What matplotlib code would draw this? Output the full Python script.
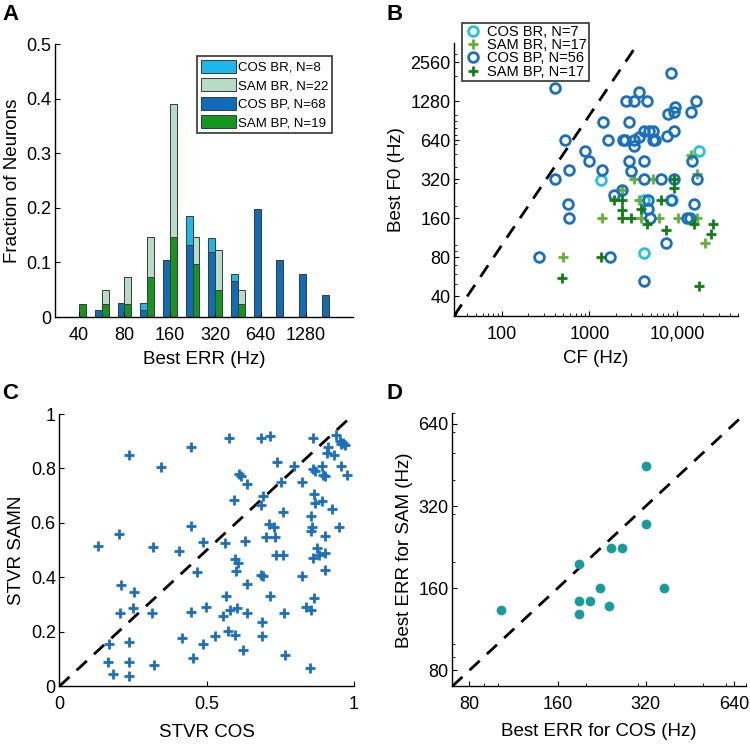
import numpy as np
import matplotlib.pyplot as plt
from matplotlib.ticker import FixedLocator, FixedFormatter, LogLocator, NullFormatter

plt.rcParams['font.family'] = ['Liberation Sans', 'DejaVu Sans']
plt.rcParams['xtick.direction'] = 'in'
plt.rcParams['ytick.direction'] = 'in'
plt.rcParams['xtick.major.size'] = 3.5
plt.rcParams['ytick.major.size'] = 3.5
plt.rcParams['xtick.minor.size'] = 2
plt.rcParams['ytick.minor.size'] = 2
plt.rcParams['xtick.major.pad'] = 7
plt.rcParams['ytick.major.pad'] = 2.5
plt.rcParams['axes.linewidth'] = 1.0

# A: neuron counts per half-octave bin of best ERR
err_bins = [40, 57, 80, 113, 160, 226, 320, 453, 640, 905, 1280, 1810]
cos_bp_n = [0, 1, 2, 1, 8, 10, 9, 5, 15, 8, 6, 3]
cos_br_n = [0, 0, 0, 1, 0, 4, 2, 1, 0, 0, 0, 0]
sam_bp_n = [1, 1, 1, 3, 6, 4, 2, 1, 0, 0, 0, 0]
sam_br_n = [0, 1, 2, 3, 10, 2, 3, 1, 0, 0, 0, 0]
err_ticks = [40, 80, 160, 320, 640, 1280]

# B: CF vs best F0
cos_br_cf = [18140, 1352, 4255, 4255, 8700]
cos_br_f0 = [534, 318, 223, 87, 223]
sam_br_cf = [3213, 5300, 16940, 2345, 3720, 1390, 3900, 6250, 10290, 16940, 21230, 505, 14320]
sam_br_f0 = [320, 320, 354, 267, 223, 160, 160, 160, 160, 160, 104, 80, 495]
cos_bp_cf = [405, 8475, 3700, 2630, 3250, 4600, 16500, 9590, 9180, 7920, 14320, 1420, 2800,
             9180, 7640, 4255, 4830, 5390, 3720, 2430, 2585, 3270, 3213, 5390, 5650, 1612, 531,
             898, 998, 2818, 4225, 14970, 590, 1400, 3024, 4255, 6520, 9180, 17000, 2345, 1901,
             4650, 8580, 15660, 4650, 4870, 12940, 14130, 590, 570, 7450, 1712, 4225, 405, 266]
cos_bp_f0 = [1640, 2111, 1508, 1280, 1280, 1280, 1280, 1157, 1054, 1020, 1060, 893, 893,
             761, 693, 761, 761, 761, 684, 640, 640, 640, 581, 640, 640, 640, 640,
             534, 448, 448, 448, 448, 380, 380, 373, 320, 320, 320, 320, 267, 244,
             223, 223, 207, 190, 160, 160, 160, 160, 207, 104, 80, 53, 320, 80]
sam_bp_cf = [9180, 9180, 1901, 2370, 2370, 6520, 3900, 2345, 3000, 4600, 15660, 25780,
             7570, 24470, 1352, 486, 18140]
sam_bp_f0 = [320, 275, 223, 223, 187, 223, 190, 160, 160, 144, 146, 146,
             131, 122, 80, 56, 48]

# C: STVR COS vs STVR SAMN
stvr_cos = [0.236, 0.346, 0.448, 0.575, 0.686, 0.715, 0.862, 0.938, 0.952, 0.964, 0.971, 0.955,
            0.913, 0.907, 0.933, 0.955, 0.975, 0.893, 0.862, 0.867, 0.896, 0.902, 0.825, 0.796,
            0.738, 0.752, 0.611, 0.615, 0.636, 0.692, 0.683, 0.594, 0.758, 0.865, 0.867, 0.890,
            0.925, 0.854, 0.856, 0.854, 0.950, 0.903, 0.710, 0.729, 0.702, 0.733, 0.736, 0.760,
            0.873, 0.880, 0.862, 0.903, 0.902, 0.825, 0.863, 0.837, 0.853, 0.852, 0.764, 0.766,
            0.715, 0.686, 0.692, 0.636, 0.630, 0.597, 0.608, 0.598, 0.638, 0.602, 0.579, 0.566,
            0.554, 0.574, 0.596, 0.622, 0.689, 0.688, 0.527, 0.488, 0.455, 0.416, 0.448, 0.497,
            0.466, 0.562, 0.488, 0.407, 0.447, 0.318, 0.313, 0.321, 0.253, 0.251, 0.236, 0.236,
            0.236, 0.208, 0.206, 0.204, 0.131, 0.169, 0.166, 0.183]
stvr_samn = [0.848, 0.804, 0.878, 0.912, 0.912, 0.920, 0.912, 0.924, 0.902, 0.893, 0.887, 0.891,
             0.879, 0.857, 0.851, 0.808, 0.777, 0.808, 0.798, 0.789, 0.777, 0.774, 0.750, 0.808,
             0.823, 0.749, 0.781, 0.771, 0.743, 0.700, 0.667, 0.683, 0.639, 0.707, 0.673, 0.679,
             0.652, 0.627, 0.585, 0.569, 0.584, 0.551, 0.596, 0.584, 0.547, 0.547, 0.482, 0.482,
             0.508, 0.483, 0.471, 0.490, 0.426, 0.404, 0.324, 0.290, 0.282, 0.067, 0.269, 0.114,
             0.333, 0.410, 0.406, 0.376, 0.534, 0.469, 0.453, 0.422, 0.269, 0.286, 0.279, 0.330,
             0.257, 0.202, 0.187, 0.135, 0.235, 0.186, 0.184, 0.157, 0.104, 0.177, 0.274, 0.290,
             0.420, 0.526, 0.530, 0.498, 0.589, 0.512, 0.269, 0.080, 0.345, 0.288, 0.162, 0.091,
             0.039, 0.373, 0.269, 0.561, 0.514, 0.155, 0.091, 0.045]

# D: best ERR for COS vs SAM
err_cos = [103, 190, 190, 190, 206, 224, 240, 244, 265, 320, 320, 368]
err_sam = [133, 197, 144, 129, 144, 160, 138, 224, 224, 275, 447, 160]

c_cos_br = '#1cb8ea'
c_sam_br = '#b6dcc6'
c_cos_bp = '#0f6cb9'
c_sam_bp = '#17961f'

LAB = 13.5
TICK = 13

fig = plt.figure(figsize=(7.5, 7.46), dpi=100)

# ---- A
axA = fig.add_axes([0.0733, 0.575, 0.3973, 0.366])
x = np.arange(len(err_bins))
cos_tot = sum(cos_bp_n) + sum(cos_br_n)
sam_tot = sum(sam_bp_n) + sum(sam_br_n)
cbp = np.array(cos_bp_n) / cos_tot
cbr = np.array(cos_br_n) / cos_tot
sbp = np.array(sam_bp_n) / sam_tot
sbr = np.array(sam_br_n) / sam_tot
w = 0.3
ek = dict(edgecolor='#3a3a3a', linewidth=0.7)
m = cbp > 0
hA3 = axA.bar(x[m] - w / 2, cbp[m], w, color=c_cos_bp, **ek)
m = cbr > 0
hA1 = axA.bar(x[m] - w / 2, cbr[m], w, bottom=cbp[m], color=c_cos_br, **ek)
m = sbp > 0
hA4 = axA.bar(x[m] + w / 2, sbp[m], w, color=c_sam_bp, **ek)
m = sbr > 0
hA2 = axA.bar(x[m] + w / 2, sbr[m], w, bottom=sbp[m], color=c_sam_br, **ek)
axA.set_xlim(-1.06, 12.07)
axA.set_ylim(0, 0.5)
axA.set_xticks([err_bins.index(t) for t in err_ticks])
axA.set_xticklabels([str(t) for t in err_ticks])
axA.set_yticks([0, 0.1, 0.2, 0.3, 0.4, 0.5])
axA.set_yticklabels(['0', '0.1', '0.2', '0.3', '0.4', '0.5'])
axA.set_xlabel('Best ERR (Hz)', fontsize=LAB, labelpad=5)
axA.set_ylabel('Fraction of Neurons', fontsize=LAB)
lgA = axA.legend([hA1, hA2, hA3, hA4],
                 ['COS BR, N=8', 'SAM BR, N=22', 'COS BP, N=68', 'SAM BP, N=19'],
                 loc='upper left', bbox_to_anchor=(0.477, 0.956), borderaxespad=0,
                 fontsize=9.5, handlelength=2.65, handleheight=1.1, labelspacing=0.35,
                 handletextpad=0.15, borderpad=0.3, fancybox=False, framealpha=1)
lgA.get_frame().set_edgecolor('#333333')
lgA.get_frame().set_linewidth(1.2)

# ---- B
axB = fig.add_axes([0.6053, 0.5764, 0.3787, 0.366])
axB.set_xscale('log')
axB.set_yscale('log')
mk = dict(linestyle='none', ms=7, mew=2)
axB.plot([28.28, 3400], [28.28, 3400], '--', color='k', lw=2, dashes=(5, 3.5))
hB1, = axB.plot(cos_br_cf, cos_br_f0, 'o', mfc='none', mec='#22c4dc', **mk)
hB2, = axB.plot(sam_br_cf, sam_br_f0, '+', color='#62b230', **mk)
hB3, = axB.plot(cos_bp_cf, cos_bp_f0, 'o', mfc='none', mec='#1a70c0', **mk)
hB4, = axB.plot(sam_bp_cf, sam_bp_f0, '+', color='#0e7f12', **mk)
axB.set_xlim(28.28, 50000)
axB.set_ylim(28.28, 3620)
f0_ticks = [40, 80, 160, 320, 640, 1280, 2560]
axB.yaxis.set_major_locator(FixedLocator(f0_ticks))
axB.yaxis.set_major_formatter(FixedFormatter([str(t) for t in f0_ticks]))
axB.yaxis.set_minor_locator(LogLocator(base=10, subs=np.arange(1, 10)))
axB.yaxis.set_minor_formatter(NullFormatter())
axB.xaxis.set_major_locator(FixedLocator([100, 1000, 10000]))
axB.xaxis.set_major_formatter(FixedFormatter(['100', '1000', '10,000']))
axB.xaxis.set_minor_locator(LogLocator(base=10, subs=np.arange(2, 10)))
axB.xaxis.set_minor_formatter(NullFormatter())
axB.set_xlabel('CF (Hz)', fontsize=LAB, labelpad=5)
axB.set_ylabel('Best F0 (Hz)', fontsize=LAB)
lgB = axB.legend([hB1, hB2, hB3, hB4],
                 ['COS BR, N=7', 'SAM BR, N=17', 'COS BP, N=56', 'SAM BP, N=17'],
                 loc='upper left', bbox_to_anchor=(0.027, 1.074), borderaxespad=0,
                 fontsize=10.5, handlelength=1.2, labelspacing=-0.05, handletextpad=0.4,
                 borderpad=0.15, fancybox=False, framealpha=1)
lgB.get_frame().set_edgecolor('#333333')
lgB.get_frame().set_linewidth(1.2)

# ---- C
axC = fig.add_axes([0.079, 0.080, 0.393, 0.365])
axC.plot([0, 1], [0, 1], '--', color='k', lw=2, dashes=(5, 3.5))
axC.plot(stvr_cos, stvr_samn, '+', color='#1a70c0', ms=6.5, mew=2, linestyle='none')
axC.set_xlim(0, 1)
axC.set_ylim(0, 1)
axC.set_xticks([0, 0.5, 1])
axC.set_xticklabels(['0', '0.5', '1'])
axC.set_yticks([0, 0.2, 0.4, 0.6, 0.8, 1])
axC.set_yticklabels(['0', '0.2', '0.4', '0.6', '0.8', '1'])
axC.set_xlabel('STVR COS', fontsize=LAB, labelpad=8)
axC.set_ylabel('STVR SAMN', fontsize=LAB)

# ---- D
axD = fig.add_axes([0.603, 0.080, 0.391, 0.366])
axD.set_xscale('log')
axD.set_yscale('log')
axD.plot([70, 700], [70, 700], '--', color='k', lw=2, dashes=(5, 3.5))
axD.plot(err_cos, err_sam, 'o', color='#179c9c', ms=7, mec='none', linestyle='none')
axD.set_xlim(70, 700)
axD.set_ylim(70, 700)
d_ticks = [80, 160, 320, 640]
for ax_ in (axD.xaxis, axD.yaxis):
    ax_.set_major_locator(FixedLocator(d_ticks))
    ax_.set_major_formatter(FixedFormatter([str(t) for t in d_ticks]))
    ax_.set_minor_locator(LogLocator(base=10, subs=np.arange(1, 10)))
    ax_.set_minor_formatter(NullFormatter())
axD.set_xlabel('Best ERR for COS (Hz)', fontsize=LAB, labelpad=7)
axD.set_ylabel('Best ERR for SAM (Hz)', fontsize=LAB)

for ax in (axA, axB, axC, axD):
    ax.spines['top'].set_visible(False)
    ax.spines['right'].set_visible(False)
    ax.tick_params(labelsize=TICK)

for lab, xx, yy in [('A', 0.003, 0.995), ('B', 0.516, 0.995), ('C', 0.003, 0.486), ('D', 0.516, 0.486)]:
    fig.text(xx, yy, lab, fontsize=16, fontweight='bold', ha='left', va='top')

fig.savefig('out.png', dpi=100)
